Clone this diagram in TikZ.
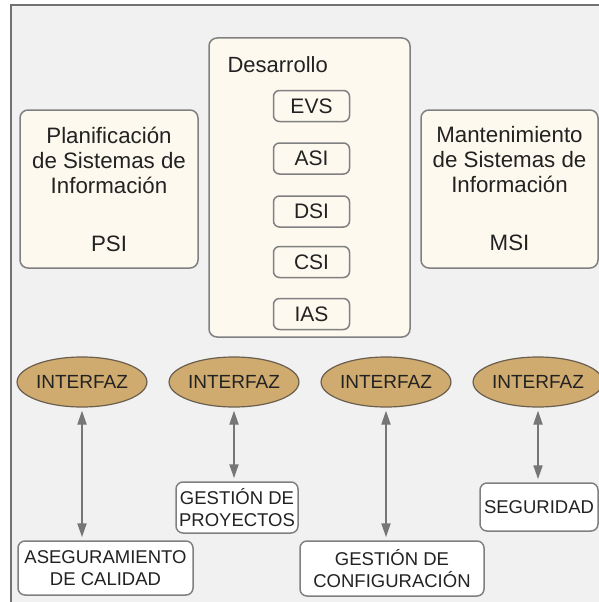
\documentclass[tikz,border=0pt]{standalone}
\usepackage{fontspec}
\setmainfont{Liberation Sans}
\usetikzlibrary{arrows.meta,shapes.geometric}
\definecolor{fondo}{HTML}{F1F1F1}
\definecolor{marco}{HTML}{727272}
\definecolor{crema}{HTML}{FDF9EF}
\definecolor{borde}{HTML}{808080}
\definecolor{ocre}{HTML}{CFAB6F}
\definecolor{ocreborde}{HTML}{6A5E4E}
\definecolor{flecha}{HTML}{767676}
\definecolor{texto}{HTML}{222222}
\tikzset{
	caja/.style={draw=borde, line width=1.5pt, fill=crema, rounded corners=8pt, align=center, text=texto, inner sep=0pt, font=\fontsize{22.3}{25}\selectfont},
	fase/.style={draw=borde, line width=1.5pt, fill=crema, rounded corners=6pt, minimum width=76pt, minimum height=31pt, text=texto, inner sep=0pt, font=\fontsize{21}{24}\selectfont},
	interfaz/.style={ellipse, draw=ocreborde, line width=1.2pt, fill=ocre, minimum width=113pt, minimum height=50pt, inner sep=0pt, text=texto, font=\fontsize{19}{22}\selectfont},
	apoyo/.style={draw=borde, line width=1.5pt, fill=white, rounded corners=7pt, align=center, text=texto, inner sep=0pt, font=\fontsize{18.5}{22}\selectfont},
	enlace/.style={draw=flecha, line width=2pt, {Triangle[length=14pt,width=9pt]}-{Triangle[length=14pt,width=9pt]}, shorten <=3pt, shorten >=3pt}
}

\begin{document}
\begin{tikzpicture}[x=1pt, y=-1pt]
			%%%%% START %%%%%
			\useasboundingbox (0, 0) rectangle (599, 602);
			\draw[fill=fondo, draw=marco, line width=2pt] (11, 5) rectangle (612, 615);
			
			% procesos principales
			\node[caja, minimum width=178pt, minimum height=158pt] (psi) at (109, 189) {Planificación\\de Sistemas de\\Información\\[33pt]PSI};
			\node[caja, minimum width=201pt, minimum height=299pt] (dev) at (309.5, 187.5) {};
			\node[caja, minimum width=177pt, minimum height=158pt] (msi) at (509.5, 189) {Mantenimiento\\de Sistemas de\\Información\\[33pt]MSI};
			\node[anchor=base west, text=texto, font=\fontsize{22}{25}\selectfont] (devtit) at (224, 72) {Desarrollo};
			
			\node[fase] (evs) at (311.5, 106) {EVS};
			\node[fase] (asi) at (311.5, 158.5) {ASI};
			\node[fase] (dsi) at (311.5, 211.5) {DSI};
			\node[fase] (csi) at (311.5, 262) {CSI};
			\node[fase] (ias) at (311.5, 314) {IAS};
			
			% interfaces
			\node[interfaz] (int1) at (82, 382) {INTERFAZ};
			\node[interfaz] (int2) at (234, 382) {INTERFAZ};
			\node[interfaz] (int3) at (386, 382) {INTERFAZ};
			\node[interfaz] (int4) at (538, 382) {INTERFAZ};
			
			\node[apoyo, minimum width=175pt, minimum height=54pt] (calidad) at (105.5, 568) {ASEGURAMIENTO\\DE CALIDAD};
			\node[apoyo, minimum width=122pt, minimum height=51pt] (proyectos) at (237, 507.5) {GESTIÓN DE\\PROYECTOS};
			\node[apoyo, minimum width=184pt, minimum height=55pt] (config) at (392, 568.5) {GESTIÓN DE\\CONFIGURACIÓN};
			\node[apoyo, minimum width=118pt, minimum height=48pt] (seguridad) at (539, 507) {SEGURIDAD};
			
			\draw[enlace] (int1.south) -- (int1.south |- calidad.north);
			\draw[enlace] (int2.south) -- (int2.south |- proyectos.north);
			\draw[enlace] (int3.south) -- (int3.south |- config.north);
			\draw[enlace] (int4.south) -- (int4.south |- seguridad.north);
			%%%%% END %%%%%
		\end{tikzpicture}
\end{document}
